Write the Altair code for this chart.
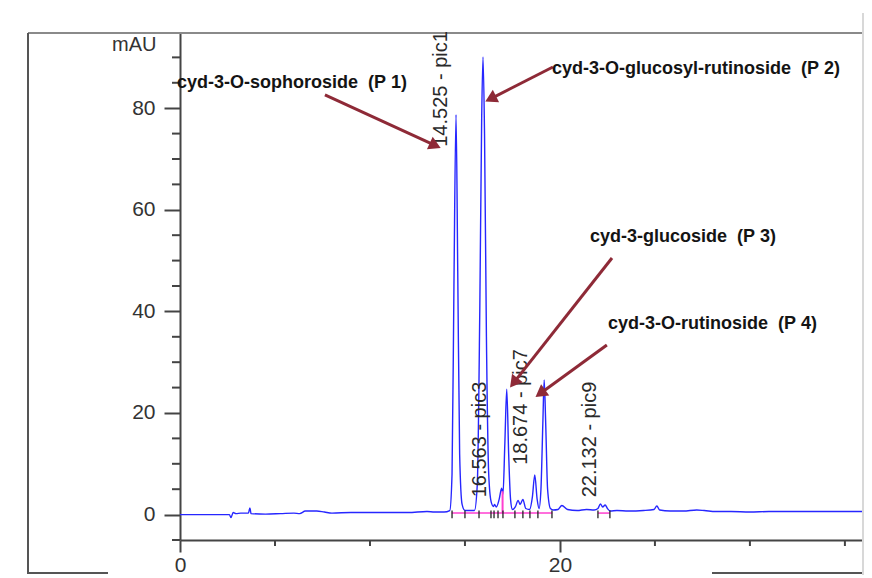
import math
import altair as alt
import pandas as pd

# ---- chromatogram trace (time in min, absorbance in mAU) ----
time_min = [0.0, 2.6, 2.68, 2.8, 2.95, 3.2, 3.6, 3.68, 3.74, 4.5, 5.3, 6.0, 6.3, 6.6, 7.2, 7.6,
            8.0, 9.0, 10.0, 11.0, 12.0, 13.0, 13.4, 13.9,
            14.2, 14.32, 14.42, 14.53, 14.62, 14.72, 14.85, 15.0,
            15.5, 15.65, 15.78, 15.88, 15.95, 16.03, 16.13, 16.25, 16.38, 16.5, 16.56, 16.65,
            16.8, 16.93, 17.0, 17.1, 17.2, 17.3, 17.4, 17.5, 17.65, 17.8, 17.9, 18.05, 18.2,
            18.4, 18.55, 18.674, 18.8, 18.9, 19.0, 19.1, 19.17, 19.25, 19.35, 19.5, 19.65,
            19.9, 20.1, 20.4, 20.9, 21.4, 21.8, 22.0, 22.13, 22.25, 22.38, 22.5, 22.65,
            23.0, 23.6, 24.4, 24.95, 25.1, 25.25, 25.8, 26.5, 27.2, 27.6, 28.2, 29.0,
            30.0, 31.0, 32.0, 33.0, 34.0, 35.0, 35.9]
mau = [0.0, 0.0, -0.6, 0.4, 0.2, 0.3, 0.3, 1.3, 0.2, 0.1, 0.2, 0.3, 0.2, 0.7, 0.7, 0.5,
       0.3, 0.4, 0.4, 0.4, 0.4, 0.6, 0.5, 0.5,
       0.8, 8.0, 45.0, 78.7, 48.0, 12.0, 2.0, 0.8,
       0.8, 6.0, 40.0, 78.0, 90.1, 75.0, 35.0, 8.0, 2.5, 1.6, 2.0, 1.5,
       3.0, 5.2, 4.0, 14.0, 24.7, 12.0, 3.0, 1.0, 1.5, 2.8, 2.0, 3.0, 1.2,
       1.0, 3.5, 7.8, 3.0, 1.2, 5.0, 18.0, 26.5, 18.0, 5.0, 1.2, 0.9,
       1.0, 1.8, 1.0, 0.8, 1.0, 0.9, 1.2, 2.1, 1.5, 1.9, 1.2, 0.7,
       0.8, 0.7, 0.8, 1.0, 1.7, 0.9, 0.7, 0.7, 0.9, 0.8, 0.6, 0.6,
       0.5, 0.6, 0.6, 0.6, 0.6, 0.6, 0.6]

# ---- integration results ----
peak_label_text = ["14.525 - pic1", "16.563 - pic3", "18.674 - pic7", "22.132 - pic9"]
peak_label_x = [13.74, 15.79, 17.95, 21.58]
peak_label_y = [72.4, 3.4, 9.8, 3.4]

integration_marks = [14.32, 15.0, 15.74, 16.37, 16.53, 16.74, 17.0, 17.63, 18.05,
                     18.42, 18.84, 19.58, 22.0, 22.63]
baseline_start = [14.3, 22.0]
baseline_end = [19.6, 22.63]

# ---- compound annotations ----
NB = "\u00a0"
compound_text = ["cyd-3-O-sophoroside" + NB + NB + "(P" + NB + "1)",
                 "cyd-3-O-glucosyl-rutinoside" + NB + NB + "(P" + NB + "2)",
                 "cyd-3-glucoside" + NB + NB + "(P" + NB + "3)",
                 "cyd-3-O-rutinoside" + NB + NB + "(P" + NB + "4)"]
compound_x = [-0.16, 19.58, 21.58, 22.53]
compound_y = [84.9, 87.7, 54.6, 37.5]
arrow_tail_x = [7.63, 19.63, 22.74, 22.47]
arrow_tail_y = [82.6, 88.1, 50.5, 33.4]
arrow_head_x = [13.58, 16.21, 17.47, 18.84]
arrow_head_y = [72.4, 81.6, 25.5, 23.5]

# ---- axes ----
x_domain = [0, 35.9]
y_domain = [-5, 94.8]
x_major = [0, 20]
x_minor = [5, 10, 15, 25, 30, 35]
y_major = [0, 20, 40, 60, 80]
y_minor = [-5, 5, 10, 15, 25, 30, 35, 45, 50, 55, 65, 70, 75, 85, 90]

W, H = 682, 507
pxx = W / (x_domain[1] - x_domain[0])
pxy = H / (y_domain[1] - y_domain[0])

AX = "#333333"
FONT = "Liberation Sans"

xs = alt.Scale(domain=x_domain, nice=False, zero=False)
ys = alt.Scale(domain=y_domain, nice=False, zero=False)


def X(field):
    return alt.X(field, type="quantitative", scale=xs, axis=alt.Axis(values=x_major, title=None))


def Y(field):
    return alt.Y(field, type="quantitative", scale=ys, axis=alt.Axis(values=y_major, title="mAU"))


trace = pd.DataFrame({"t": time_min, "v": mau})

base_line = alt.Chart(trace).mark_line(color="#2626ff", strokeWidth=1.4, interpolate="monotone").encode(
    x=X("t"), y=Y("v"))

# minor ticks
xminor = alt.Chart(pd.DataFrame({"t": x_minor})).mark_rule(color="#444", strokeWidth=2).encode(
    x=X("t"), y=alt.value(H), y2=alt.value(H + 6))
yminor = alt.Chart(pd.DataFrame({"v": y_minor})).mark_rule(color="#444", strokeWidth=2).encode(
    y=Y("v"), x=alt.value(-8), x2=alt.value(0))

# integration baseline (magenta)
bl = alt.Chart(pd.DataFrame({"a": baseline_start, "b": baseline_end, "v": [0.3, 0.3]})).mark_rule(
    color="#ff3fd0", strokeWidth=1.5).encode(x=X("a"), x2="b", y=Y("v"))
drop = alt.Chart(pd.DataFrame({"t": [16.98], "v": [0.3], "v2": [4.6]})).mark_rule(
    color="#ff3fd0", strokeWidth=2).encode(x=X("t"), y=Y("v"), y2="v2")
marks = alt.Chart(pd.DataFrame({"t": integration_marks, "lo": [-0.7] * len(integration_marks),
                                "hi": [0.8] * len(integration_marks)})).mark_rule(
    color="#222", strokeWidth=1.3).encode(x=X("t"), y=Y("lo"), y2="hi")

labels = alt.Chart(pd.DataFrame({"t": peak_label_x, "v": peak_label_y, "s": peak_label_text})).mark_text(
    angle=270, align="left", baseline="middle", fontSize=20, font=FONT, color="#2a2a2a").encode(
    x=X("t"), y=Y("v"), text="s")

# arrows
ang, hx, hy = [], [], []
for x1, y1, x2, y2 in zip(arrow_tail_x, arrow_tail_y, arrow_head_x, arrow_head_y):
    dx = (x2 - x1) * pxx
    dy = -(y2 - y1) * pxy
    a = math.degrees(math.atan2(dx, -dy)) % 360
    L = math.hypot(dx, dy)
    back = 5.0
    hx.append(x2 - dx / L * back / pxx)
    hy.append(y2 + dy / L * back / pxy)
    ang.append(a)

arrows_df = pd.DataFrame({"x1": arrow_tail_x, "y1": arrow_tail_y, "x2": hx, "y2": hy,
                          "hx": hx, "hy": hy, "ang": ang})
ARROW = "#8e2a37"
arrow_lines = alt.Chart(arrows_df).mark_rule(color=ARROW, strokeWidth=3).encode(
    x=X("x1"), y=Y("y1"), x2="x2", y2="y2")
arrow_heads = alt.Chart(arrows_df).mark_point(shape="triangle", filled=True, opacity=1, size=190,
                                              color=ARROW).encode(
    x=X("hx"), y=Y("hy"), angle=alt.Angle("ang:Q", scale=None))

texts = alt.Chart(pd.DataFrame({"t": compound_x, "v": compound_y, "s": compound_text})).mark_text(
    align="left", baseline="middle", fontSize=18, fontWeight="bold", font=FONT, color="#141414").encode(
    x=X("t"), y=Y("v"), text="s")

# outer frame of the figure
one = pd.DataFrame({"k": [0]})
frame_top = alt.Chart(one).mark_rule(color="#8a8a8a", strokeWidth=2).encode(
    x=alt.value(-152), x2=alt.value(W), y=alt.value(0))
frame_left = alt.Chart(one).mark_rule(color="#555", strokeWidth=2).encode(
    x=alt.value(-152), y=alt.value(0), y2=alt.value(541))
frame_b1 = alt.Chart(one).mark_rule(color="#555", strokeWidth=2).encode(
    x=alt.value(-152), x2=alt.value(-72), y=alt.value(540))
frame_b2 = alt.Chart(one).mark_rule(color="#555", strokeWidth=2).encode(
    x=alt.value(532), x2=alt.value(W), y=alt.value(540))
edge_right = alt.Chart(one).mark_rule(color="#d8d8d8", strokeWidth=2).encode(
    x=alt.value(W + 1), y=alt.value(-20), y2=alt.value(H + 35))

chart = alt.layer(
    edge_right, frame_top, frame_left, frame_b1, frame_b2,
    base_line, xminor, yminor, bl, drop, marks, labels, arrow_lines, arrow_heads, texts
).properties(
    width=W, height=H,
    padding={"left": 172, "top": 25, "right": 2, "bottom": 35},
    autosize=alt.AutoSizeParams(type="none"),
).configure_view(stroke=None).configure(background="white").configure_axis(
    grid=False, domainColor="#444", domainWidth=2, tickColor="#444", tickWidth=2,
    labelFontSize=21, labelColor=AX, labelFont=FONT, titleFont=FONT, titleColor=AX,
    titleFontSize=20, titleFontWeight="normal", labelFlush=False
).configure_axisX(
    tickSize=12, labelPadding=2
).configure_axisY(
    tickSize=16, labelPadding=9, titleAngle=0, titleAlign="right", titleBaseline="middle",
    titleX=-24, titleY=11
)

chart.save("out.html", embed_options={"renderer": "svg", "actions": False})
